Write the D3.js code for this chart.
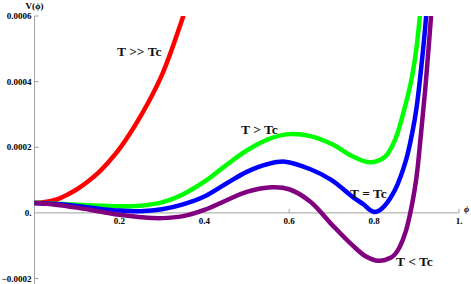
<!DOCTYPE html>
<html>
<head>
<meta charset="utf-8">
<script src="https://cdn.jsdelivr.net/npm/d3@7"></script>
<style>
  body { margin: 0; background: #fff; }
  svg { display: block; }
  .tick-label { font-family: "Liberation Serif", "Times New Roman", serif; font-weight: bold; font-size: 9px; fill: #000; }
  .curve-label { font-family: "Liberation Serif", "Times New Roman", serif; font-weight: bold; font-size: 13.5px; fill: #111; }
</style>
</head>
<body>
<div id="chart"></div>
<script>
// values, V in units of 1e-4
const phiRed = [0, 0.025, 0.05, 0.075, 0.1, 0.125, 0.15, 0.175, 0.2, 0.25, 0.3, 0.35, 0.37];
const vRed = [0.30, 0.33, 0.40, 0.54, 0.72, 0.95, 1.22, 1.56, 1.95, 2.95, 4.2, 5.98, 6.8];

const phiGreen = [0, 0.05, 0.1, 0.15, 0.2, 0.25, 0.3, 0.35, 0.4, 0.45, 0.5, 0.55, 0.6, 0.65, 0.7, 0.75, 0.79, 0.825, 0.85, 0.87, 0.88, 0.89, 0.9, 0.91, 0.92];
const vGreen = [0.31, 0.28, 0.25, 0.22, 0.20, 0.22, 0.32, 0.57, 0.95, 1.44, 1.90, 2.24, 2.40, 2.34, 2.1, 1.72, 1.54, 1.70, 2.25, 3.1, 3.6, 4.2, 5.05, 6.3, 7.8];

const phiBlue = [0, 0.05, 0.1, 0.15, 0.2, 0.25, 0.3, 0.35, 0.4, 0.45, 0.5, 0.55, 0.59, 0.65, 0.7, 0.75, 0.775, 0.79, 0.8, 0.81, 0.825, 0.85, 0.875, 0.89, 0.9, 0.91, 0.92, 0.93];
const vBlue = [0.30, 0.27, 0.21, 0.13, 0.07, 0.05, 0.11, 0.26, 0.50, 0.88, 1.25, 1.49, 1.56, 1.33, 1.0, 0.48, 0.26, 0.09, 0.03, 0.06, 0.22, 0.72, 1.6, 2.45, 3.2, 4.3, 5.6, 7.2];

const phiPurple = [0, 0.05, 0.1, 0.15, 0.2, 0.25, 0.3, 0.35, 0.4, 0.45, 0.5, 0.56, 0.6, 0.65, 0.7, 0.75, 0.78, 0.81, 0.84, 0.85, 0.86, 0.875, 0.89, 0.9, 0.91, 0.92, 0.93, 0.936, 0.945];
const vPurple = [0.30, 0.25, 0.16, 0.05, -0.06, -0.13, -0.16, -0.10, 0.09, 0.37, 0.64, 0.78, 0.72, 0.34, -0.35, -1.0, -1.32, -1.46, -1.36, -1.25, -1.05, -0.55, 0.3, 1.1, 2.35, 3.7, 5.3, 6.3, 7.8];

const xTicks = [0.2, 0.4, 0.6, 0.8, 1.0];
const xTickLabels = ["0.2", "0.4", "0.6", "0.8", "1."];
const yTicks = [-0.0002, 0, 0.0002, 0.0004, 0.0006];
const yTickLabels = ["\u22120.0002", "0.", "0.0002", "0.0004", "0.0006"];

const curveNames = ["T >> Tc", "T > Tc", "T = Tc", "T < Tc"];

const width = 471, height = 284;
const scaleV = 1e-4;

const x = d3.scaleLinear().domain([0, 1]).range([34.5, 459]);
const y = d3.scaleLinear().domain([-0.0002, 0.0006]).range([278.5, 16]);

const svg = d3.select("#chart").append("svg")
    .attr("width", width)
    .attr("height", height);

svg.append("defs").append("clipPath")
    .attr("id", "plot-clip")
    .append("rect")
    .attr("x", 0).attr("y", y(0.0006))
    .attr("width", width).attr("height", height - y(0.0006));

// axes, Mathematica style: gray lines crossing at origin
const axisColor = "#a0a0a0";

svg.append("line")
    .attr("x1", x(0)).attr("x2", x(0))
    .attr("y1", y(0.0006)).attr("y2", height)
    .attr("stroke", axisColor).attr("stroke-width", 1);

svg.append("line")
    .attr("x1", x(0)).attr("x2", x(1))
    .attr("y1", y(0)).attr("y2", y(0))
    .attr("stroke", axisColor).attr("stroke-width", 1);

xTicks.forEach((t, i) => {
    svg.append("line")
        .attr("x1", x(t)).attr("x2", x(t))
        .attr("y1", y(0)).attr("y2", y(0) - 4)
        .attr("stroke", axisColor);
    svg.append("text")
        .attr("class", "tick-label")
        .attr("x", x(t))
        .attr("y", y(0) + 11)
        .attr("text-anchor", "middle")
        .text(xTickLabels[i]);
});

yTicks.forEach((t, i) => {
    if (t !== 0) {
        svg.append("line")
            .attr("x1", x(0)).attr("x2", x(0) + 4)
            .attr("y1", y(t)).attr("y2", y(t))
            .attr("stroke", axisColor);
    }
    svg.append("text")
        .attr("class", "tick-label")
        .attr("x", x(0) - 3)
        .attr("y", y(t) + 3)
        .attr("text-anchor", "end")
        .text(yTickLabels[i]);
});

// axis titles
svg.append("text")
    .attr("class", "tick-label")
    .attr("x", x(0))
    .attr("y", 9)
    .attr("text-anchor", "middle")
    .text("V(\u03D5)");

svg.append("text")
    .attr("class", "tick-label")
    .attr("font-style", "italic")
    .attr("x", x(1) + 5)
    .attr("y", y(0) - 1)
    .text("\u03D5");

// curves
const series = [
    { phi: phiRed, v: vRed, color: "#ff0000" },
    { phi: phiGreen, v: vGreen, color: "#00ff00" },
    { phi: phiBlue, v: vBlue, color: "#0000ff" },
    { phi: phiPurple, v: vPurple, color: "#800080" }
];

const line = d3.line()
    .x(d => x(d[0]))
    .y(d => y(d[1] * scaleV))
    .curve(d3.curveCatmullRom.alpha(0.5));

const plot = svg.append("g").attr("clip-path", "url(#plot-clip)");

plot.selectAll("path.curve")
    .data(series)
    .enter()
    .append("path")
    .attr("class", "curve")
    .attr("d", s => line(s.phi.map((p, i) => [p, s.v[i]])))
    .attr("fill", "none")
    .attr("stroke", s => s.color)
    .attr("stroke-width", 4.5)
    .attr("stroke-linejoin", "round");

// curve labels, left edge and baseline in pixels
const labelPos = [[117, 56], [241, 134], [350, 198], [396, 266]];

svg.selectAll("text.curve-label")
    .data(curveNames)
    .enter()
    .append("text")
    .attr("class", "curve-label")
    .attr("x", (d, i) => labelPos[i][0])
    .attr("y", (d, i) => labelPos[i][1])
    .text(d => d);
</script>
</body>
</html>
